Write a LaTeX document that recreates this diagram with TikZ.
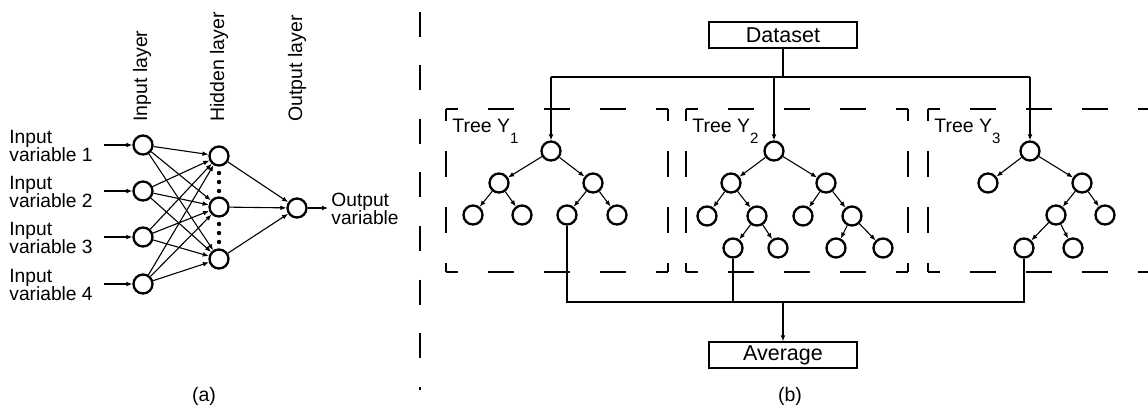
\documentclass[tikz,border=0pt]{standalone}
\usepackage{fontspec}
\setmainfont{Liberation Sans}
\usepackage{tikz}
\usetikzlibrary{arrows.meta}
\newcommand{\treesub}[1]{\raisebox{-5.5pt}{\fontsize{7.5}{7.5}\selectfont #1}}

\begin{document}
\begin{tikzpicture}[x=0.5pt,y=-0.5pt,>={Latex[length=3pt,width=2.4pt]},
                    every node/.style={inner sep=0pt},
                    neuron/.style={circle,draw,line width=1.15pt,minimum size=9.5pt},
                    link/.style={->,line width=0.55pt},
                    plain/.style={line width=0.55pt},
                    varlabel/.style={anchor=west,align=left,font=\fontsize{9.6}{9}\selectfont},
                    layerlabel/.style={anchor=west,rotate=90,font=\fontsize{9.75}{10}\selectfont},
                    treelabel/.style={anchor=base west,font=\fontsize{9.75}{10}\selectfont},
                    databox/.style={draw,line width=0.7pt,minimum width=74pt,minimum height=13pt,
                                    font=\fontsize{10.75}{11}\selectfont},
                    cutline/.style={line width=1.2pt,dash pattern=on 13pt off 15pt,dash phase=7pt}]
  \useasboundingbox (0,0) rectangle (1148,409);
  \clip (0,0) rectangle (1148,409);
  % (a) neural network
  \node[layerlabel] (linput) at (142,122) {Input layer};
  \node[layerlabel] (lhidden) at (219,122) {Hidden layer};
  \node[layerlabel] (loutput) at (297,122) {Output layer};
  \node[neuron] (in1) at (143,145) {};
  \node[neuron] (in2) at (143,191) {};
  \node[neuron] (in3) at (143,237) {};
  \node[neuron] (in4) at (143,284) {};
  \node[neuron] (hid1) at (219,156) {};
  \node[neuron] (hid2) at (219,207) {};
  \node[neuron] (hid3) at (219,259) {};
  \node[neuron] (out) at (297,208) {};
  \node[varlabel] (var1) at (9,146) {Input\\variable 1};
  \node[varlabel] (var2) at (9,192) {Input\\variable 2};
  \node[varlabel] (var3) at (9,238) {Input\\variable 3};
  \node[varlabel] (var4) at (9,285) {Input\\variable 4};
  \node[varlabel] (varout) at (331,209) {Output\\variable};
  \coordinate (x1) at (104,145);
  \coordinate (x2) at (104,191);
  \coordinate (x3) at (104,237);
  \coordinate (x4) at (104,284);
  \coordinate (yout) at (328,208);
  \draw[link] (x1) -- (in1);
  \draw[link] (x2) -- (in2);
  \draw[link] (x3) -- (in3);
  \draw[link] (x4) -- (in4);
  \draw[link] (in1) edge (hid1) edge (hid2) edge (hid3);
  \draw[link] (in2) edge (hid1) edge (hid2) edge (hid3);
  \draw[link] (in3) edge (hid1) edge (hid2) edge (hid3);
  \draw[link] (in4) edge (hid1) edge (hid2) edge (hid3);
  \draw[link] (hid1) edge (out) (hid2) edge (out) (hid3) edge (out);
  \draw[link] (out) -- (yout);
  \fill (219,173) circle (2.2) (219,182) circle (2.2) (219,191) circle (2.2);
  \fill (219,224) circle (2.2) (219,233) circle (2.2) (219,242) circle (2.2);
  \node[font=\fontsize{9.75}{10}\selectfont] (capa) at (204,396) {(a)};
  % separator
  \draw[line width=1pt,dash pattern=on 12.5pt off 14.3pt] (420,11.5) -- (420,390);
  % (b) random forest
  \draw[cutline] (446,109) -- (668,109);
  \draw[cutline] (446,109) -- (446,272);
  \draw[cutline] (446,272) -- (668,272);
  \draw[cutline] (668,109) -- (668,272);
  \draw[cutline] (686,109) -- (908,109);
  \draw[cutline] (686,109) -- (686,272);
  \draw[cutline] (686,272) -- (908,272);
  \draw[cutline] (908,109) -- (908,272);
  \draw[cutline] (928,109) -- (1170,109);
  \draw[cutline] (928,109) -- (928,272);
  \draw[cutline] (928,272) -- (1170,272);
  \draw[cutline] (1150,109) -- (1150,272);
  \node[treelabel] (tree1) at (452,132) {Tree Y\treesub{1}};
  \node[treelabel] (tree2) at (692,132) {Tree Y\treesub{2}};
  \node[treelabel] (tree3) at (934,132) {Tree Y\treesub{3}};
  % tree 1
  \node[neuron] (t1r) at (551,151) {};
  \node[neuron] (t1a) at (499,183) {};
  \node[neuron] (t1b) at (593,183) {};
  \node[neuron] (t1aa) at (473,215) {};
  \node[neuron] (t1ab) at (522,215) {};
  \node[neuron] (t1ba) at (567,215) {};
  \node[neuron] (t1bb) at (617,215) {};
  \draw[link] (t1r) edge (t1a) edge (t1b);
  \draw[link] (t1a) edge (t1aa) edge (t1ab);
  \draw[link] (t1b) edge (t1ba) edge (t1bb);
  % tree 2
  \node[neuron] (t2r) at (774,151) {};
  \node[neuron] (t2a) at (731,183) {};
  \node[neuron] (t2b) at (826,183) {};
  \node[neuron] (t2aa) at (707,216) {};
  \node[neuron] (t2ab) at (757,216) {};
  \node[neuron] (t2ba) at (803,216) {};
  \node[neuron] (t2bb) at (852,216) {};
  \node[neuron] (t2aba) at (733,248) {};
  \node[neuron] (t2abb) at (778,248) {};
  \node[neuron] (t2bba) at (836,248) {};
  \node[neuron] (t2bbb) at (883,248) {};
  \draw[link] (t2r) edge (t2a) edge (t2b);
  \draw[link] (t2a) edge (t2aa) edge (t2ab);
  \draw[link] (t2b) edge (t2ba) edge (t2bb);
  \draw[link] (t2ab) edge (t2aba) edge (t2abb);
  \draw[link] (t2bb) edge (t2bba) edge (t2bbb);
  % tree 3
  \node[neuron] (t3r) at (1030,151) {};
  \node[neuron] (t3a) at (988,183) {};
  \node[neuron] (t3b) at (1082,183) {};
  \node[neuron] (t3ba) at (1056,215) {};
  \node[neuron] (t3bb) at (1105,215) {};
  \node[neuron] (t3baa) at (1024,248) {};
  \node[neuron] (t3bab) at (1073,248) {};
  \draw[link] (t3r) edge (t3a) edge (t3b);
  \draw[link] (t3b) edge (t3ba) edge (t3bb);
  \draw[link] (t3ba) edge (t3baa) edge (t3bab);
  % dataset and average
  \node[databox] (data) at (783,35) {Dataset};
  \node[databox] (avg) at (783,355) {Average};
  \coordinate (split) at (783,77);
  \coordinate (s1) at (551,77);
  \coordinate (s2) at (774,77);
  \coordinate (s3) at (1030,77);
  \draw[plain] (data) -- (split);
  \draw[plain] (s1) -- (s3);
  \draw[link] (s1) -- (t1r);
  \draw[link] (s2) -- (t2r);
  \draw[link] (s3) -- (t3r);
  \coordinate (m1) at (567,302);
  \coordinate (m2) at (733,302);
  \coordinate (m3) at (1024,302);
  \coordinate (merge) at (783,302);
  \draw[plain] (t1ba) -- (m1) -- (m3) -- (t3baa);
  \draw[plain] (t2aba) -- (m2);
  \draw[link] (merge) -- (avg);
  \node[font=\fontsize{9.75}{10}\selectfont] (capb) at (790,396) {(b)};
\end{tikzpicture}
\end{document}
